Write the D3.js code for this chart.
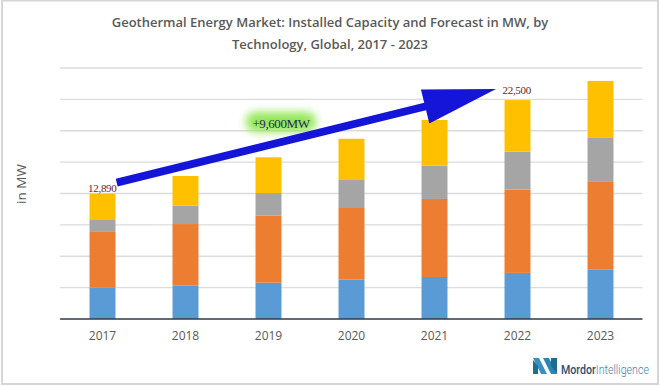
<!DOCTYPE html>
<html><head><meta charset="utf-8">
<script src="https://cdn.jsdelivr.net/npm/d3@7"></script>
<style>html,body{margin:0;padding:0;background:#fff;}svg{display:block;}</style>
</head><body>
<svg id="chart" width="660" height="386"></svg>
<script>
// ---- data ----
const years = ["2017","2018","2019","2020","2021","2022","2023"];
const seriesNames = ["Segment 1","Segment 2","Segment 3","Segment 4"];
const segment1 = [3210, 3420, 3730, 4040, 4320, 4740, 5110];
const segment2 = [5740, 6340, 6890, 7370, 8020, 8560, 9050];
const segment3 = [1300, 1880, 2330, 2950, 3420, 3900, 4450];
const segment4 = [2640, 3060, 3670, 4170, 4700, 5300, 5860];
const gridValues = [0, 3225, 6450, 9675, 12900, 16125, 19350, 22575, 25800];
const titleLines = ["Geothermal Energy Market: Installed Capacity and Forecast in MW, by", "Technology, Global, 2017 - 2023"];
const startLabel = "12,890";
const endLabel = "22,500";
const growthLabel = "+9,600MW";

const colors = ["#5B9BD5", "#ED7D31", "#A5A5A5", "#FFC000"];

const rows = years.map((y, i) => ({year: y, s0: segment1[i], s1: segment2[i], s2: segment3[i], s3: segment4[i]}));
const keys = ["s0","s1","s2","s3"];
const stack = d3.stack().keys(keys)(rows);

const svg = d3.select("#chart");
// frame
svg.append("rect").attr("x",2).attr("y",0.5).attr("width",656).attr("height",383.5)
  .attr("fill","#fff").attr("stroke","#d6d6d6").attr("stroke-width",2);

const x = d3.scaleBand().domain(years).range([61, 642]).paddingInner(0.687).paddingOuter(0.3435);
const y = d3.scaleLinear().domain([0, 25800]).range([319, 68]);

// gridlines
svg.append("g").selectAll("line").data(gridValues.slice(1)).join("line")
  .attr("x1", 60).attr("x2", 642.5)
  .attr("y1", d => y(d)).attr("y2", d => y(d))
  .attr("stroke", "#dcdcdc").attr("stroke-width", 1.3);

// bars
svg.append("g").selectAll("g").data(stack).join("g")
  .attr("fill", (d, i) => colors[i])
  .selectAll("rect").data(d => d).join("rect")
  .attr("x", d => x(d.data.year))
  .attr("width", x.bandwidth())
  .attr("y", d => y(d[1]))
  .attr("height", d => y(d[0]) - y(d[1]));

// baseline axis
const xAxis = d3.axisBottom(x).tickSize(0).tickPadding(12);
const gx = svg.append("g").attr("transform", `translate(0,${y(0)})`).call(xAxis);
gx.select(".domain").attr("stroke", "#2e3b48").attr("stroke-width", 1.4).attr("d", "M60,0H642.5");
gx.selectAll("text").attr("font-family", "'Open Sans', sans-serif").attr("font-size", 12)
  .attr("fill", "#595959");

// y title
svg.append("text").attr("transform", "translate(26,184) rotate(-90)")
  .attr("text-anchor", "middle").attr("font-family", "'Open Sans', sans-serif")
  .attr("font-size", 13.5).attr("fill", "#595959").text("in MW");

// title
svg.append("g").selectAll("text").data(titleLines).join("text")
  .attr("x", 330).attr("y", (d, i) => 27 + i * 21.5)
  .attr("text-anchor", "middle").attr("font-family", "'Open Sans', sans-serif")
  .attr("font-weight", 600).attr("font-size", 13).attr("fill", "#595959").text(d => d);

// arrow
const tot = i => segment1[i] + segment2[i] + segment3[i] + segment4[i];
const p0 = [x(years[0]) + x.bandwidth() + 1.2, y(tot(0)) - 11];
const pT = [x(years[5]) - 8.5, y(tot(5)) - 11];
const dx = pT[0] - p0[0], dy = pT[1] - p0[1], len = Math.hypot(dx, dy);
const ux = dx / len, uy = dy / len, nx = -uy, ny = ux;
const headL = 73, headW = 17.5, shaftW = 3.9;
const bx = pT[0] - ux * headL, by = pT[1] - uy * headL;
const pts = [
  [p0[0] + nx * shaftW, p0[1] + ny * shaftW],
  [bx + nx * shaftW, by + ny * shaftW],
  [bx + nx * headW, by + ny * headW],
  pT,
  [bx - nx * headW, by - ny * headW],
  [bx - nx * shaftW, by - ny * shaftW],
  [p0[0] - nx * shaftW, p0[1] - ny * shaftW]
];

const defs = svg.append("defs");
const f = defs.append("filter").attr("id", "glow").attr("x", "-50%").attr("y", "-80%").attr("width", "200%").attr("height", "260%");
f.append("feGaussianBlur").attr("stdDeviation", 4);

// glow behind growth label
const gxc = 281, gyc = 122;
svg.append("rect").attr("x", gxc - 35).attr("y", gyc - 10).attr("width", 70).attr("height", 20)
  .attr("rx", 9).attr("fill", "#8fe650").attr("opacity", 0.95).attr("filter", "url(#glow)");

svg.append("path").attr("d", d3.line()(pts) + "Z").attr("fill", "#1515d9");

svg.append("text").attr("x", gxc).attr("y", 128).attr("text-anchor", "middle")
  .attr("font-family", "'Liberation Serif', serif").attr("font-size", 13)
  .attr("letter-spacing", -0.4).attr("fill", "#1e2d5c").text(growthLabel);

// value labels
svg.append("text").attr("x", x(years[0]) + x.bandwidth() + 1).attr("y", y(tot(0)) - 2)
  .attr("text-anchor", "end").attr("font-family", "'Liberation Serif', serif")
  .attr("font-size", 11).attr("letter-spacing", -0.3).attr("fill", "#6e2226").text(startLabel);
svg.append("text").attr("x", x(years[5]) - 2).attr("y", y(tot(5)) - 6.5)
  .attr("text-anchor", "start").attr("font-family", "'Liberation Serif', serif")
  .attr("font-size", 11).attr("letter-spacing", -0.3).attr("fill", "#6e2226").text(endLabel);

// logo
const logo = svg.append("g");
logo.append("polygon").attr("points", "533,358 539,358 547,374 541,374").attr("fill", "#3a8fbf");
logo.append("polygon").attr("points", "533,360 538,366 538,374 533,374").attr("fill", "#1d6d8f");
logo.append("polygon").attr("points", "543,358 549,358 557,374 551,374").attr("fill", "#2a86b5");
logo.append("polygon").attr("points", "551,358 557,358 557,374 551,366").attr("fill", "#1d6d8f");
const lg = logo.append("g");
const lt = lg.append("text").attr("x", 0).attr("y", 0)
  .attr("font-family", "Roboto, sans-serif").attr("font-size", 12.5);
lt.append("tspan").attr("font-weight", 500).attr("fill", "#2f4d6e").text("Mordor");
lt.append("tspan").attr("font-weight", 300).attr("fill", "#3f7fae").text("Intelligence");
const natW = lt.node().getComputedTextLength() || 105;
lg.attr("transform", `translate(561,373.5) scale(${88 / natW},1)`);
</script>
</body></html>
